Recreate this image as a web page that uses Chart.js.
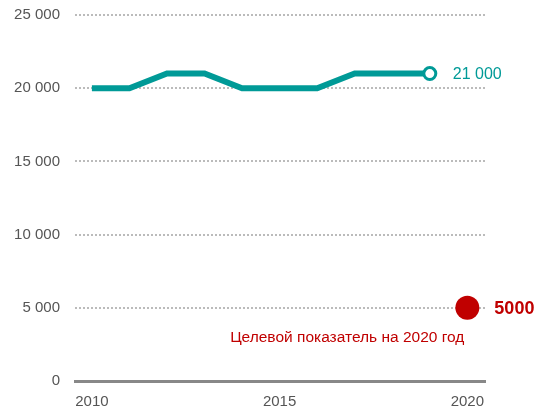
<!DOCTYPE html>
<html>
<head>
<meta charset="utf-8">
<script src="https://cdn.jsdelivr.net/npm/chart.js@4"></script>
<style>
  body { margin: 0; background: #fff; }
  #wrap { width: 536px; height: 412px; }
</style>
</head>
<body>
<div id="wrap"><canvas id="chart"></canvas></div>
<script>
(function() {

  "use strict";

  // data
  var years = [2010, 2011, 2012, 2013, 2014, 2015, 2016, 2017, 2018, 2019];
  var values = [20000, 20000, 21000, 21000, 20000, 20000, 20000, 21000, 21000, 21000];
  var targetYear = 2020;
  var targetValue = 5000;
  var targetText = "Целевой показатель на 2020 год";
  var yearTicks = [2010, 2015, 2020];

  var teal = "#009a97";
  var red = "#c00000";
  var font = "'Liberation Sans', Arial, sans-serif";

  function spaced(v) {
    return String(v).replace(/\B(?=(\d{3})+(?!\d))/g, " ");
  }

  var lineData = years.map(function(y, i) { return { x: y, y: values[i] }; });
  var last = lineData.length - 1;

  var labelPlugin = {
    id: "labels",
    afterDatasetsDraw: function(chart) {
      var ctx = chart.ctx;
      var xs = chart.scales.x, ys = chart.scales.y;
      ctx.save();
      ctx.textBaseline = "middle";
      // last value
      ctx.fillStyle = teal;
      ctx.font = "16px " + font;
      ctx.textAlign = "left";
      ctx.fillText(spaced(values[last]), xs.getPixelForValue(years[last]) + 23, ys.getPixelForValue(values[last]) + 1);
      // target
      var tx = xs.getPixelForValue(targetYear), ty = ys.getPixelForValue(targetValue);
      ctx.fillStyle = red;
      ctx.font = "bold 18px " + font;
      ctx.fillText(String(targetValue), tx + 27, ty + 1);
      ctx.font = "15.5px " + font;
      ctx.textAlign = "right";
      ctx.fillText(targetText, tx - 3, ty + 30);
      ctx.restore();
    }
  };

  new Chart(document.getElementById("chart"), {
    type: "line",
    data: {
      datasets: [
        {
          data: lineData,
          borderColor: teal,
          borderWidth: 6,
          tension: 0,
          pointRadius: function(c) { return c.dataIndex === last ? 6 : 0; },
          pointBackgroundColor: "#fff",
          pointBorderColor: teal,
          pointBorderWidth: 3,
          clip: false
        },
        {
          data: [{ x: targetYear, y: targetValue }],
          showLine: false,
          pointRadius: 12,
          pointBackgroundColor: red,
          pointBorderColor: red,
          pointBorderWidth: 0,
          clip: false
        }
      ]
    },
    options: {
      responsive: true,
      maintainAspectRatio: false,
      animation: false,
      layout: { autoPadding: false, padding: { top: 15, right: 51, left: 0, bottom: 0 } },
      plugins: {
        legend: { display: false },
        tooltip: { enabled: false }
      },
      scales: {
        x: {
          type: "linear",
          min: 2009.55,
          max: 2020.47,
          afterBuildTicks: function(axis) {
            axis.ticks = yearTicks.map(function(v) { return { value: v }; });
          },
          afterFit: function(axis) {
            axis.height = 31;
            axis.paddingLeft = 0;
            axis.paddingRight = 0;
          },
          grid: { display: false, drawTicks: false },
          border: { display: true, color: "#888", width: 3 },
          ticks: {
            color: "#555",
            padding: 12,
            maxRotation: 0,
            font: { family: font, size: 15 },
            callback: function(v) { return String(v); }
          }
        },
        y: {
          min: 0,
          max: 25000,
          afterFit: function(axis) {
            axis.width = 75;
            axis.paddingTop = 0;
            axis.paddingBottom = 0;
          },
          grid: { color: "#bbb", lineWidth: 2, drawTicks: false },
          border: { display: false, dash: [2, 2] },
          ticks: {
            stepSize: 5000,
            color: "#555",
            padding: 15,
            font: { family: font, size: 15 },
            callback: function(v) { return spaced(v); }
          }
        }
      }
    },
    plugins: [labelPlugin]
  });

})();
</script>
</body>
</html>
